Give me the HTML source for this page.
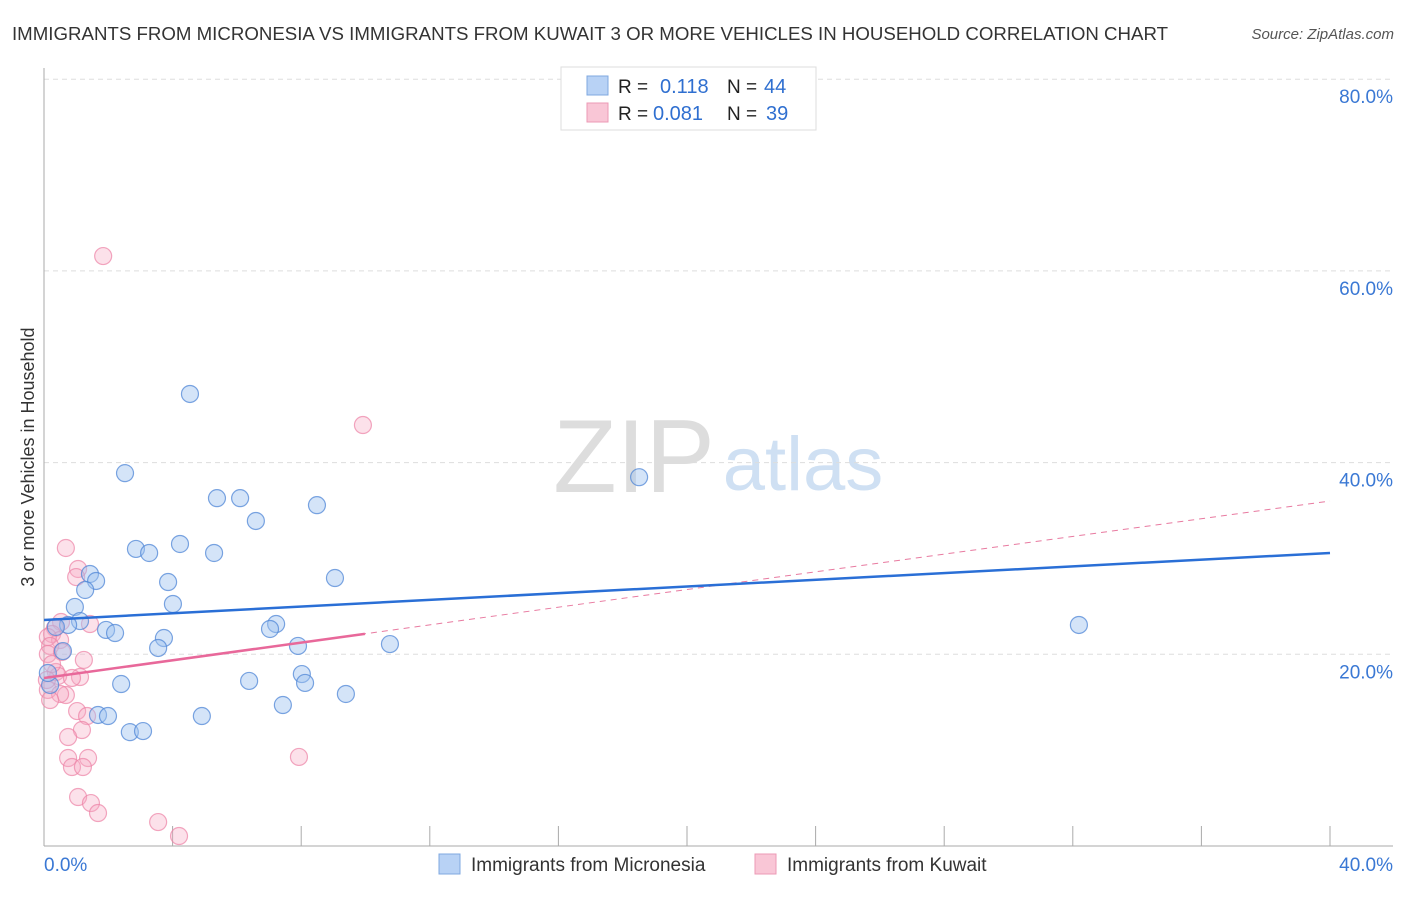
<!DOCTYPE html>
<html><head><meta charset="utf-8"><style>
body{margin:0;background:#fff;font-family:"Liberation Sans",sans-serif}
svg text{font-family:"Liberation Sans",sans-serif}
</style></head><body>
<svg id="chart" width="1406" height="892" xmlns="http://www.w3.org/2000/svg">
<text x="12" y="40" font-size="18" fill="#333" textLength="1156" lengthAdjust="spacingAndGlyphs">IMMIGRANTS FROM MICRONESIA VS IMMIGRANTS FROM KUWAIT 3 OR MORE VEHICLES IN HOUSEHOLD CORRELATION CHART</text>
<text x="1394" y="39" font-size="15" fill="#555" font-style="italic" text-anchor="end">Source: ZipAtlas.com</text>
<g>
<text x="634" y="492" font-size="104" font-family="Liberation Serif" fill="#ddd" text-anchor="middle">ZIP</text>
<text x="803" y="490" font-size="76" fill="#cfe0f3" text-anchor="middle">atlas</text>
</g>
<g id="grid"></g><g id="axes"></g><g id="marks"></g>
<text transform="translate(34,457) rotate(-90)" font-size="18" fill="#333" text-anchor="middle">3 or more Vehicles in Household</text>
<g>
<rect x="561" y="67" width="255" height="63" fill="#fff" stroke="#ddd"/>
<rect x="587" y="76" width="21" height="19" fill="#b8d2f5" stroke="#7fa8e0"/>
<rect x="587" y="103" width="21" height="19" fill="#f9c6d6" stroke="#ec9ab5"/>
<text x="618" y="93" font-size="19" fill="#222">R =</text>
<text x="660" y="93" font-size="20" fill="#2f6fd0">0.118</text>
<text x="727" y="93" font-size="19" fill="#222">N =</text>
<text x="764" y="93" font-size="20" fill="#2f6fd0">44</text>
<text x="618" y="120" font-size="19" fill="#222">R =</text>
<text x="653" y="120" font-size="20" fill="#2f6fd0">0.081</text>
<text x="727" y="120" font-size="19" fill="#222">N =</text>
<text x="766" y="120" font-size="20" fill="#2f6fd0">39</text>
</g>
<g>
<rect x="439" y="854" width="21" height="20" fill="#b8d2f5" stroke="#7fa8e0"/>
<text x="471" y="871" font-size="19" fill="#333">Immigrants from Micronesia</text>
<rect x="755" y="854" width="21" height="20" fill="#f9c6d6" stroke="#ec9ab5"/>
<text x="787" y="871" font-size="19" fill="#333">Immigrants from Kuwait</text>
</g>
</svg>
<script>
const yTicks=[20,40,60,80];
const yTickLabels=["20.0%","40.0%","60.0%","80.0%"];
const xTicks=[0,4,8,12,16,20,24,28,32,36,40];
const blueX=[4.54,2.52,18.51,5.38,6.10,8.49,6.59,2.86,3.27,4.23,5.29,1.43,1.62,9.05,3.86,1.28,4.01,0.96,1.12,0.75,0.37,1.93,2.21,7.22,7.03,32.19,3.73,3.55,7.90,10.76,0.59,8.02,6.38,8.12,2.40,9.39,7.43,4.91,1.68,1.99,2.67,3.08,0.19,0.12];
const blueY=[47.16,38.90,38.48,36.29,36.29,35.56,33.91,30.99,30.57,31.51,30.57,28.38,27.65,27.96,27.54,26.71,25.25,24.94,23.47,23.06,22.85,22.54,22.22,23.16,22.64,23.06,21.70,20.66,20.87,21.07,20.34,17.94,17.22,17.01,16.90,15.86,14.71,13.56,13.67,13.56,11.88,11.99,16.80,18.05];
const pinkX=[1.84,9.92,0.68,1.06,1.00,1.43,0.53,0.34,0.25,0.50,0.12,0.19,0.12,0.56,1.24,0.37,0.44,1.12,0.87,0.12,0.68,0.50,1.03,1.34,1.18,0.75,0.75,1.37,0.87,1.21,7.93,1.06,1.46,1.68,3.55,4.20,0.09,0.25,0.19];
const pinkY=[61.55,43.92,31.09,28.90,28.06,23.16,23.37,22.74,22.12,21.49,21.80,20.87,20.03,20.24,19.41,18.15,17.74,17.63,17.53,16.28,15.75,15.86,14.08,13.56,12.10,11.37,9.18,9.18,8.24,8.24,9.29,5.11,4.48,3.44,2.50,1.04,17.32,18.99,15.23];
const blueTrend=[23.58,30.57];
const pinkTrend=[17.53,35.99];
const pinkSolidEnd=9.98;
const NS='http://www.w3.org/2000/svg';
const sx=v=>44+v/40*1286, sy=v=>846-v/20*191.7;
function mk(tag,attrs,parent){const e=document.createElementNS(NS,tag);for(const k in attrs)e.setAttribute(k,attrs[k]);document.getElementById(parent).appendChild(e);return e;}
yTicks.forEach((t,i)=>{
 const g=mk('line',{x1:44,x2:1393,y1:sy(t),y2:sy(t),stroke:'#ddd','stroke-dasharray':'5,4'},'grid');
 
 
 const l=mk('text',{x:1393,y:sy(t)+24,'font-size':19,fill:'#3a78d4','text-anchor':'end'},'axes');
 l.textContent=yTickLabels[i];
 
 
});
const ya=mk('line',{x1:44,x2:44,y1:68,y2:846,stroke:'#aaa'},'axes');


const xa=mk('line',{x1:44,x2:1393,y1:846,y2:846,stroke:'#aaa'},'axes');


xTicks.forEach(t=>{
 const k=mk('line',{x1:sx(t),x2:sx(t),y1:826,y2:846,stroke:'#aaa'},'axes');
 
 
});
[[0,"0.0%",'start',44],[40,"40.0%",'end',1393]].forEach(a=>{
 const l=mk('text',{x:a[3],y:871,'font-size':19,fill:'#3a78d4','text-anchor':a[2]},'axes');
 l.textContent=a[1];
 
 
});
pinkX.forEach((x,i)=>{
 const c=mk('circle',{cx:sx(x),cy:sy(pinkY[i]),r:8.5,fill:'rgba(246,170,195,0.35)',stroke:'rgba(236,130,165,0.7)','stroke-width':1.2},'marks');
 
 
});
blueX.forEach((x,i)=>{
 const c=mk('circle',{cx:sx(x),cy:sy(blueY[i]),r:8.5,fill:'rgba(160,196,240,0.45)',stroke:'rgba(80,135,215,0.75)','stroke-width':1.2},'marks');
 
 
});
const pd=mk('line',{x1:sx(0),y1:sy(pinkTrend[0]),x2:sx(40),y2:sy(pinkTrend[1]),stroke:'#e87aa0','stroke-width':1,'stroke-dasharray':'6,5'},'marks');


const ps=mk('line',{x1:sx(0),y1:sy(pinkTrend[0]),x2:sx(pinkSolidEnd),y2:sy(pinkTrend[0]+(pinkTrend[1]-pinkTrend[0])*pinkSolidEnd/40),stroke:'#e8689a','stroke-width':2.5},'marks');


const bl=mk('line',{x1:sx(0),y1:sy(blueTrend[0]),x2:sx(40),y2:sy(blueTrend[1]),stroke:'#2a6fd6','stroke-width':2.5},'marks');


</script>
</body></html>
